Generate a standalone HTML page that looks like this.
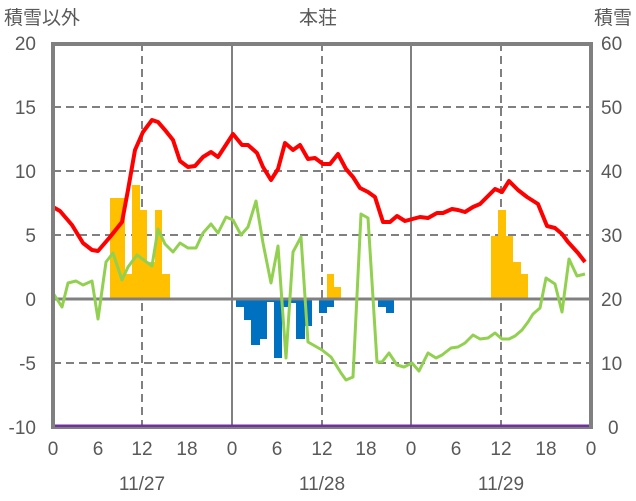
<!DOCTYPE html>
<html><head><meta charset="utf-8"><style>
html,body{margin:0;padding:0;background:#fff;}
svg{display:block;font-family:"Liberation Sans","Noto Sans CJK JP",sans-serif;}
</style></head><body>
<svg width="636" height="501" viewBox="0 0 636 501" xmlns="http://www.w3.org/2000/svg">
<g stroke="#808080" stroke-width="2" stroke-dasharray="8,5">
<line x1="53" y1="107" x2="591" y2="107"/><line x1="53" y1="171" x2="591" y2="171"/>
<line x1="53" y1="235" x2="591" y2="235"/><line x1="53" y1="363" x2="591" y2="363"/>
<line x1="142" y1="43" x2="142" y2="427"/><line x1="322" y1="43" x2="322" y2="427"/><line x1="501" y1="43" x2="501" y2="427"/>
</g>
<g stroke="#808080" stroke-width="2">
<line x1="232" y1="43" x2="232" y2="427"/><line x1="411" y1="43" x2="411" y2="427"/>
</g>
<g fill="#FFC000">
<rect x="110" y="198" width="15" height="101"/><rect x="125" y="274" width="7" height="25"/>
<rect x="132" y="185" width="8" height="114"/><rect x="140" y="210" width="7" height="89"/>
<rect x="147" y="262" width="8" height="37"/><rect x="155" y="210" width="7" height="89"/>
<rect x="162" y="274" width="8" height="25"/>
<rect x="327" y="274" width="7" height="25"/><rect x="334" y="287" width="7" height="12"/>
<rect x="491" y="236" width="7" height="63"/><rect x="498" y="210" width="8" height="89"/>
<rect x="506" y="236" width="7" height="63"/><rect x="513" y="262" width="8" height="37"/>
<rect x="521" y="274" width="7" height="25"/>
</g>
<g fill="#0070C0">
<rect x="236" y="299" width="8" height="8"/><rect x="244" y="299" width="7" height="21"/>
<rect x="251" y="299" width="9" height="46"/><rect x="260" y="299" width="7" height="40"/>
<rect x="267" y="299" width="7" height="3"/><rect x="274" y="299" width="8" height="59"/>
<rect x="282" y="299" width="8" height="8"/><rect x="290" y="299" width="6" height="4"/>
<rect x="296" y="299" width="9" height="40"/><rect x="305" y="299" width="7" height="27"/>
<rect x="319" y="299" width="8" height="14"/><rect x="327" y="299" width="7" height="8"/>
<rect x="378" y="299" width="8" height="8"/><rect x="386" y="299" width="8" height="14"/>
</g>
<line x1="53" y1="299" x2="591" y2="299" stroke="#808080" stroke-width="3"/>
<polyline fill="none" stroke="#92D050" stroke-width="3" stroke-linejoin="round" points="53,293 62,307 68,283 76,281 83,285 92,281 98,319 106,262 113,253 122,280 128,267 137,255 152,266 158,229 165,244 173,252 180,243 188,248 196,248 203,233 211,224 218,233 226,217 233,220 241,235 248,227 256,201 263,243 271,283 278,246 286,358 293,252 301,237 308,342 322,350 331,357 341,373 346,380 353,377 361,214 368,218 377,362 382,362 389,353 397,365 404,367 412,363 419,371 428,353 436,358 442,355 451,348 458,347 465,343 473,335 480,339 488,338 495,333 502,339 509,339 515,336 522,330 528,322 533,314 540,308 546,278 555,284 562,312 569,259 577,276 585,274"/>
<polyline fill="none" stroke="#FF0000" stroke-width="4" stroke-linejoin="round" points="53,207 60,211 72,225 83,243 92,250 98,251 110,237 122,222 128,190 135,150 143,132 152,120 158,122 165,130 173,140 180,161 188,167 195,166 203,157 211,152 218,157 233,134 242,145 248,145 257,153 263,167 271,180 278,169 285,143 293,150 300,145 308,159 315,158 323,164 330,164 338,154 346,169 353,177 360,188 368,192 375,197 383,222 390,222 397,216 405,221 420,217 428,218 437,213 443,213 452,209 458,210 465,212 473,207 480,204 488,196 495,189 502,192 509,181 518,190 527,197 538,204 547,226 555,228 562,234 568,242 578,253 585,262"/>
<line x1="53" y1="426" x2="591" y2="426" stroke="#7030A0" stroke-width="3"/>
<path d="M53,427 V44 H591 V428" fill="none" stroke="#808080" stroke-width="4"/>
<line x1="51" y1="428" x2="593" y2="428" stroke="#808080" stroke-width="2"/>
<g fill="#595959" font-size="19" text-anchor="end">
<text x="36" y="50">20</text><text x="36" y="114">15</text><text x="36" y="178">10</text>
<text x="36" y="242">5</text><text x="36" y="306">0</text><text x="36" y="370">-5</text><text x="36" y="434">-10</text>
</g>
<g fill="#595959" font-size="19" text-anchor="start">
<text x="601" y="50">60</text><text x="601" y="114">50</text><text x="601" y="178">40</text>
<text x="601" y="242">30</text><text x="601" y="306">20</text><text x="601" y="370">10</text><text x="608" y="434">0</text>
</g>
<g fill="#595959" font-size="19" text-anchor="middle">
<text x="53" y="455">0</text><text x="98" y="455">6</text><text x="142" y="455">12</text><text x="187" y="455">18</text>
<text x="232" y="455">0</text><text x="277" y="455">6</text><text x="322" y="455">12</text><text x="366" y="455">18</text>
<text x="411" y="455">0</text><text x="456" y="455">6</text><text x="501" y="455">12</text><text x="546" y="455">18</text>
<text x="591" y="455">0</text>
<text x="142" y="490">11/27</text><text x="322" y="490">11/28</text><text x="501" y="490">11/29</text>
<text x="318" y="24">本荘</text>
</g>
<text x="4" y="24" fill="#595959" font-size="19">積雪以外</text>
<text x="632" y="24" fill="#595959" font-size="19" text-anchor="end">積雪</text>
</svg>
</body></html>
